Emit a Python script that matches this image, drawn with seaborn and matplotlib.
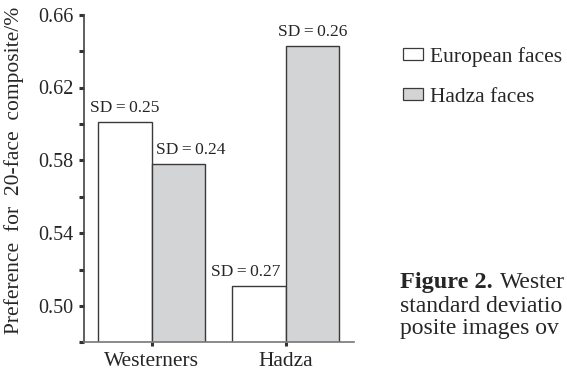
import matplotlib
matplotlib.use("Agg")
import matplotlib.pyplot as plt
import seaborn as sns
import pandas as pd
from matplotlib.ticker import MultipleLocator
from matplotlib.patches import Patch

# data
groups = ["Westerners", "Hadza"]
face_types = ["European faces", "Hadza faces"]
european = [0.601, 0.511]
hadza = [0.578, 0.643]
sd_european = [0.25, 0.27]
sd_hadza = [0.24, 0.26]

colors = ["white", "#d3d4d6"]
edge = "#3a3a3a"

df = pd.DataFrame({
    "group": groups * 2,
    "faces": [face_types[0]] * 2 + [face_types[1]] * 2,
    "pref": european + hadza,
})

sns.set_style("ticks")
plt.rcParams["font.family"] = ["Liberation Serif", "DejaVu Serif"]

fig = plt.figure(figsize=(5.67, 3.71), dpi=100)
ax = fig.add_axes([84 / 567, 1 - 342.3 / 371, 270 / 567, 327.6 / 371])

sns.barplot(data=df, x="group", y="pref", hue="faces", order=groups,
            hue_order=face_types, palette=colors, edgecolor=edge,
            linewidth=1.0, errorbar=None, legend=False, ax=ax)

ax.set_xlim(-0.505, 1.51)
ax.set_ylim(0.48, 0.66)
ax.yaxis.set_minor_locator(MultipleLocator(0.02))
ax.set_yticks([0.50, 0.54, 0.58, 0.62, 0.66])
ax.set_yticklabels(["0.50", "0.54", "0.58", "0.62", "0.66"])
ax.tick_params(axis="y", which="both", length=3.5, width=2.2, color="#333333",
               direction="out", pad=4, labelsize=14.5)
ax.tick_params(axis="x", length=3, width=2.2, color="#333333", pad=4,
               labelsize=15.5)
ax.set_xlabel("")
ax.set_ylabel("")

sns.despine(ax=ax, top=True, right=True)
ax.spines["left"].set_color("#444444")
ax.spines["left"].set_linewidth(1.2)
ax.spines["bottom"].set_color("#777777")
ax.spines["bottom"].set_linewidth(1.2)

# SD labels above bars (two are nudged sideways so they do not collide)
nudges_e = [0.0, -0.1]
nudges_h = [0.09, 0.0]
for i in range(len(groups)):
    ax.annotate("SD\u2009=\u2009%.2f" % sd_european[i],
                (i - 0.2 + nudges_e[i], european[i]), xytext=(0, 7),
                textcoords="offset points", ha="center", va="baseline",
                fontsize=12.5)
    ax.annotate("SD\u2009=\u2009%.2f" % sd_hadza[i],
                (i + 0.2 + nudges_h[i], hadza[i]), xytext=(0, 7),
                textcoords="offset points", ha="center", va="baseline",
                fontsize=12.5)

fig.text(14 / 567, 1 - 170 / 371, "Preference  for  20-face  composite/%",
         rotation=90, ha="center", va="center", fontsize=15.5)

handles = [Patch(facecolor=c, edgecolor=edge, linewidth=0.9) for c in colors]
fig.legend(handles, face_types, loc="upper left",
           bbox_to_anchor=(394 / 567, 1 - 38 / 371), frameon=False,
           fontsize=15.5, handlelength=0.93, handleheight=0.47,
           handletextpad=0.36, labelspacing=1.0, borderaxespad=0)

# caption fragment on the right, as far as the reference shows it
fig.text(400 / 567, 1 - 288 / 371, "Figure 2.", fontweight="bold",
         fontsize=17.5, va="baseline", ha="left")
fig.text(500 / 567, 1 - 288 / 371, "Wester", fontsize=17,
         va="baseline", ha="left")
fig.text(400 / 567, 1 - 311.5 / 371, "standard deviatio", fontsize=17,
         va="baseline", ha="left")
fig.text(400 / 567, 1 - 334 / 371, "posite images ov", fontsize=17,
         va="baseline", ha="left")

fig.savefig("out.png", dpi=100)
